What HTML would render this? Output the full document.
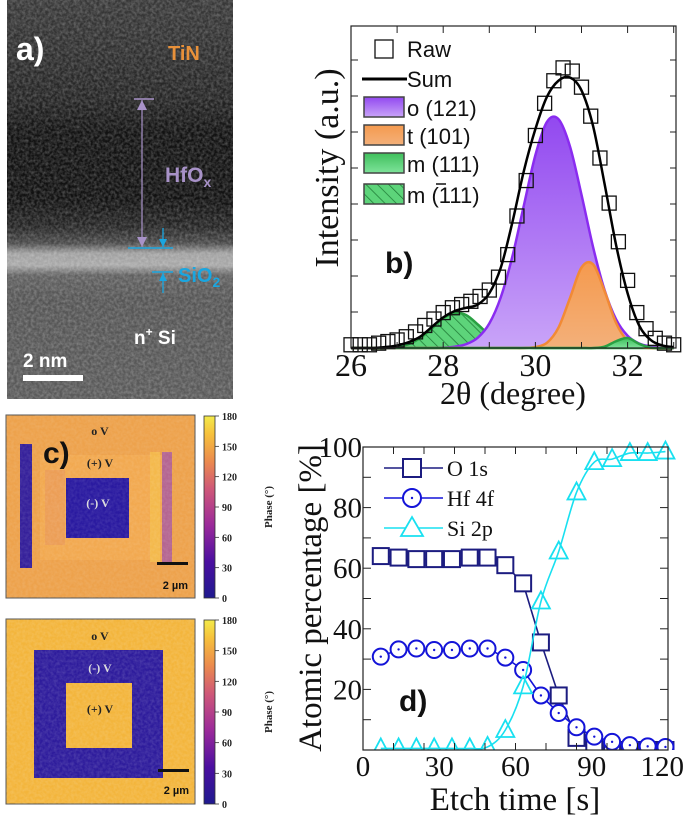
<!DOCTYPE html>
<html><head><meta charset="utf-8"><style>
html,body{margin:0;padding:0;background:#fff;}
svg{display:block;}
.ser{font-family:"Liberation Serif",serif;}
.san{font-family:"Liberation Sans",sans-serif;}
</style></head><body>
<svg id="fig" width="685" height="818" viewBox="0 0 685 818" xmlns="http://www.w3.org/2000/svg">
<defs>
<linearGradient id="temGrad" x1="0" y1="0" x2="0" y2="1">
<stop offset="0" stop-color="#383838"/><stop offset="0.08" stop-color="#333"/>
<stop offset="0.25" stop-color="#242424"/><stop offset="0.33" stop-color="#121212"/>
<stop offset="0.5" stop-color="#111"/><stop offset="0.57" stop-color="#262626"/>
<stop offset="0.61" stop-color="#4a4a4a"/><stop offset="0.635" stop-color="#a0a0a0"/>
<stop offset="0.665" stop-color="#a8a8a8"/><stop offset="0.69" stop-color="#606060"/>
<stop offset="0.75" stop-color="#555"/><stop offset="1" stop-color="#5a5a5a"/>
</linearGradient>
<filter id="noise" x="0" y="0" width="1" height="1">
<feTurbulence type="fractalNoise" baseFrequency="0.35" numOctaves="2" seed="3"/>
<feColorMatrix type="matrix" values="0 0 0 0 1  0 0 0 0 1  0 0 0 0 1  0 0 0 1.2 -0.35"/>
</filter>
<linearGradient id="plasma" x1="0" y1="1" x2="0" y2="0">
<stop offset="0" stop-color="#1f1a8f"/><stop offset="0.2" stop-color="#4b0fa0"/>
<stop offset="0.4" stop-color="#9b2a9a"/><stop offset="0.6" stop-color="#cf5878"/>
<stop offset="0.75" stop-color="#eb8a4e"/><stop offset="0.9" stop-color="#f6c03c"/>
<stop offset="1" stop-color="#f3ea4a"/>
</linearGradient>
<pattern id="hatch" width="8" height="8" patternUnits="userSpaceOnUse" patternTransform="rotate(-45)">
<rect width="8" height="8" fill="#5dd47a"/><line x1="0" y1="0" x2="0" y2="8" stroke="#1f7a35" stroke-width="1.5"/>
</pattern>
<linearGradient id="purpGrad" x1="0" y1="0" x2="0" y2="1"><stop offset="0" stop-color="#9248f0"/><stop offset="1" stop-color="#c9a4f8"/></linearGradient>
<linearGradient id="orGrad" x1="0" y1="0" x2="0" y2="1"><stop offset="0" stop-color="#f59a4e"/><stop offset="1" stop-color="#f3b07a"/></linearGradient>
<linearGradient id="grGrad" x1="0" y1="0" x2="0" y2="1"><stop offset="0" stop-color="#3fbf5c"/><stop offset="1" stop-color="#7ee39a"/></linearGradient>
</defs>

<!-- Panel a: TEM -->
<g>
<rect x="7" y="0" width="226" height="399" fill="url(#temGrad)"/>
<rect x="7" y="0" width="226" height="399" filter="url(#noise)" opacity="0.35"/>
<text x="16" y="60" class="san" font-size="32" font-weight="bold" fill="#fff">a)</text>
<text x="168" y="60" class="san" font-size="20" font-weight="bold" fill="#e8913a">TiN</text>
<line x1="142" y1="100" x2="142" y2="247" stroke="#a892c8" stroke-width="1.2"/>
<line x1="134" y1="99" x2="154" y2="99" stroke="#a892c8" stroke-width="1.5"/>
<polygon points="142,100 137,110 147,110" fill="#a892c8"/>
<polygon points="142,247 137,237 147,237" fill="#a892c8"/>
<text x="165" y="182" class="san" font-size="21" font-weight="bold" fill="#a892c8">HfO<tspan font-size="14" dy="5">x</tspan></text>
<line x1="128" y1="248" x2="173" y2="248" stroke="#1aa6e0" stroke-width="1.5"/>
<line x1="152" y1="272" x2="173" y2="272" stroke="#1aa6e0" stroke-width="1.5"/>
<line x1="163" y1="228" x2="163" y2="247" stroke="#1aa6e0" stroke-width="1.3"/>
<polygon points="163,247 159,239 167,239" fill="#1aa6e0"/>
<line x1="163" y1="273" x2="163" y2="293" stroke="#1aa6e0" stroke-width="1.3"/>
<polygon points="163,273 159,281 167,281" fill="#1aa6e0"/>
<text x="178" y="282" class="san" font-size="20" font-weight="bold" fill="#1aa6e0">SiO<tspan font-size="14" dy="5">2</tspan></text>
<text x="134" y="344" class="san" font-size="19" font-weight="bold" fill="#fff">n<tspan font-size="12" dy="-8">+</tspan><tspan dy="8"> Si</tspan></text>
<text x="23" y="367" class="san" font-size="19" font-weight="bold" fill="#fff">2 nm</text>
<rect x="23" y="375" width="60" height="6" fill="#fff"/>
</g>

<!-- Panel c top -->
<g>
<rect x="6" y="415" width="189" height="183" fill="#eda24c" stroke="#555" stroke-width="1"/>
<rect x="40" y="455" width="122" height="105" fill="#f2a950"/>
<rect x="45" y="470" width="20" height="75" fill="#e8975a" opacity="0.6"/>
<rect x="150" y="452" width="10" height="110" fill="#f5c04a" opacity="0.7"/>
<rect x="20" y="444" width="12" height="124" fill="#35209a"/>
<rect x="162" y="452" width="10" height="112" fill="#a050a8" opacity="0.75"/>
<rect x="66" y="478" width="63" height="60" fill="#2a1aa0"/>
<rect x="6" y="415" width="189" height="183" filter="url(#noise)" opacity="0.15"/>
<text x="43" y="463" class="san" font-size="30" font-weight="bold" fill="#111">c)</text>
<text x="100" y="435" class="ser" font-size="12" font-weight="bold" fill="#222" text-anchor="middle">o V</text>
<text x="100" y="467" class="ser" font-size="12" font-weight="bold" fill="#222" text-anchor="middle">(+) V</text>
<text x="98" y="507" class="ser" font-size="12" font-weight="bold" fill="#ddd" text-anchor="middle">(-) V</text>
<rect x="157" y="562" width="31" height="3" fill="#111"/>
<text x="188" y="589" class="san" font-size="11" font-weight="bold" fill="#111" text-anchor="end">2 µm</text>
</g>
<g>
<rect x="204" y="416" width="11" height="182" fill="url(#plasma)" stroke="#333" stroke-width="0.8"/>
</g>

<!-- Panel c bottom -->
<g>
<rect x="6" y="619" width="189" height="185" fill="#f3b53c" stroke="#555" stroke-width="1"/>
<rect x="34" y="650" width="129" height="128" fill="#2e1c9c"/>
<rect x="66" y="683" width="66" height="65" fill="#f3b53c"/>
<rect x="6" y="619" width="189" height="185" filter="url(#noise)" opacity="0.2"/>
<text x="100" y="640" class="ser" font-size="12" font-weight="bold" fill="#222" text-anchor="middle">o V</text>
<text x="100" y="672" class="ser" font-size="12" font-weight="bold" fill="#ddd" text-anchor="middle">(-) V</text>
<text x="100" y="713" class="ser" font-size="12" font-weight="bold" fill="#222" text-anchor="middle">(+) V</text>
<rect x="158" y="769" width="31" height="3" fill="#111"/>
<text x="189" y="794" class="san" font-size="11" font-weight="bold" fill="#111" text-anchor="end">2 µm</text>
</g>
<g>
<rect x="204" y="620" width="11" height="184" fill="url(#plasma)" stroke="#333" stroke-width="0.8"/>
</g>
<g id="cbticks"></g>

<!-- Panel b -->
<g id="panelB"></g>
<!-- Panel d -->
<g id="panelD"></g>
</svg>
<script>
// ---------- Panel b data ----------
const gridX = [26,26.25,26.5,26.75,27,27.25,27.5,27.75,28,28.25,28.5,28.75,29,29.25,29.5,29.75,30,30.25,30.5,30.75,31,31.25,31.5,31.75,32,32.25,32.5,32.75,33];
const oVals =  [0,0,0,0,0,0,0,0,0.1,0.4,1.2,3.2,7.6,15.8,28.4,44.3,59.9,70.2,71.1,62.6,47.6,31.4,18,8.9,3.8,1.4,0.5,0.1,0];
const tVals =  [0,0,0,0,0,0,0,0,0,0,0,0,0,0,0,0,0.3,1.6,6.3,15.5,25,26,17.7,7.8,2.2,0.4,0,0,0];
const mBarVals=[0,0,0,0.1,0.4,1.2,3.1,6,9.2,10.9,10.2,7.3,4.1,1.8,0.6,0.2,0,0,0,0,0,0,0,0,0,0,0,0,0];
const m111Vals=[0,0,0,0,0,0,0,0,0,0,0,0,0,0,0,0,0,0,0,0,0,0,0.4,2.1,3.1,1.3,0.1,0,0];
const sumVals= [0,0,0,0.3,0.8,1.8,3.5,6.5,9.5,11.5,12.5,13.5,17,25,39,55,68,78,83,84,80,69,51,32,17,7,2.5,0.8,0.3];
const rawX = [26,26.2,26.4,26.6,26.8,27,27.2,27.4,27.6,27.8,28,28.2,28.4,28.6,28.8,29,29.2,29.4,29.6,29.8,30,30.2,30.4,30.6,30.8,31,31.2,31.4,31.6,31.8,32,32.2,32.4,32.6,32.8,33];
const rawY = [1,1,1,1.5,2,2.5,3.5,5,7,9,11,12.5,13.5,14.5,16,18,22,29,41,52,66,76,83,87,86,81,72,59,45,33,21,11,6,3,1.5,1];
const bXTicks = [26,28,30,32];

// ---------- Panel d data ----------
const etchTime = [7,14,21,28,35,42,49,56,63,70,77,84,91,98,105,112,119];
const o1s = [64,63.5,63,63,63,63.5,63.5,61,55,35.5,18,4,1,0,0,0,0];
const hf4f = [30.8,33.2,33.5,33,33,33.5,33.5,30.5,26.4,18,12.2,7.5,4.4,2.7,1.6,1.2,1];
const si2p = [0.5,0.5,0.5,0.5,0.5,0.5,1,6.6,21,49,65.5,85,95,96,98,98,98.5];
const dXTicks = [0,30,60,90,120];
const dYTicks = [20,40,60,80,100];
const cbLabels = [0,30,60,90,120,150,180];

const NS='http://www.w3.org/2000/svg';
function mk(parent, tag, attrs){const e=document.createElementNS(NS,tag);for(const k in attrs)e.setAttribute(k,attrs[k]);parent.appendChild(e);return e;}
function smooth(pts){let d='M'+pts[0][0]+','+pts[0][1];for(let i=0;i<pts.length-1;i++){const p0=pts[i-1]||pts[i],p1=pts[i],p2=pts[i+1],p3=pts[i+2]||p2;
d+=' C'+(p1[0]+(p2[0]-p0[0])/6)+','+(p1[1]+(p2[1]-p0[1])/6)+' '+(p2[0]-(p3[0]-p1[0])/6)+','+(p2[1]-(p3[1]-p1[1])/6)+' '+p2[0]+','+p2[1];}return d;}

// colorbar labels
const cbg=document.getElementById('cbticks');
[[416,598],[620,804]].forEach(([t,b],ci)=>{
  cbLabels.forEach(v=>{const y=b-(v/180)*(b-t);
    const tx=mk(cbg,'text',{x:222,y:y+4,'font-size':10,'font-weight':'bold',class:'ser',fill:'#222'});tx.textContent=v;
    
    
    mk(cbg,'line',{x1:215,x2:219,y1:y,y2:y,stroke:'#333','stroke-width':0.8});});
  const lab=mk(cbg,'text',{x:0,y:0,'font-size':11,'font-weight':'bold',class:'ser',fill:'#222','text-anchor':'middle',transform:'translate(272,'+((t+b)/2)+') rotate(-90)'});
  lab.textContent='Phase (°)';
  
  
});

// ---------- Panel b ----------
(function(){
const g=document.getElementById('panelB');
const L=351,R=676,T=26,B=348;
const sx=v=>L+(v-26)/(33.05-26)*(R-L);
const sy=v=>B-v/100*(B-T);
function area(vals,fill,stroke,name){
  const pts=gridX.map((x,i)=>[sx(x),sy(vals[i])]);
  const p=mk(g,'path',{d:smooth(pts)+' L'+sx(33)+','+B+' L'+sx(26)+','+B+' Z',fill:fill,stroke:'none'});
  
  
  mk(g,'path',{d:smooth(pts),fill:'none',stroke:stroke,'stroke-width':2.5});
}
area(mBarVals,'url(#hatch)','#2aa043','peak-m-bar111');
area(oVals,'url(#purpGrad)','#8a2cf0','peak-o121');
area(tVals,'url(#orGrad)','#f28a35','peak-t101');
area(m111Vals,'url(#grGrad)','#2aa043','peak-m111');
rawX.forEach((x,i)=>{const r=mk(g,'rect',{x:sx(x)-7,y:sy(rawY[i])-7,width:14,height:14,fill:'none',stroke:'#111','stroke-width':1.3});
  
  });
const sp=mk(g,'path',{d:smooth(gridX.map((x,i)=>[sx(x),sy(sumVals[i])])),fill:'none',stroke:'#000','stroke-width':2.5});


mk(g,'rect',{x:L,y:T,width:R-L,height:B-T,fill:'none',stroke:'#222','stroke-width':1.2});
for(let v=26;v<=33;v++){const x=sx(v);mk(g,'line',{x1:x,x2:x,y1:B,y2:B-6,stroke:'#222'});mk(g,'line',{x1:x,x2:x,y1:T,y2:T+7,stroke:'#222'});}
for(let k=1;k<=8;k++){const y=B-k*36;mk(g,'line',{x1:L,x2:L+7,y1:y,y2:y,stroke:'#222'});mk(g,'line',{x1:R,x2:R-6,y1:y,y2:y,stroke:'#222'});}
bXTicks.forEach(v=>{const t=mk(g,'text',{x:sx(v),y:376,'text-anchor':'middle','font-size':32,class:'ser',fill:'#111'});t.textContent=v;
  
  });
const xt=mk(g,'text',{x:513,y:404,'text-anchor':'middle','font-size':32,class:'ser',fill:'#111'});xt.textContent='2θ (degree)';


const yt=mk(g,'text',{x:0,y:0,'text-anchor':'middle','font-size':34,class:'ser',fill:'#111',transform:'translate(338,168) rotate(-90)'});yt.textContent='Intensity (a.u.)';


const bl=mk(g,'text',{x:385,y:273,'font-size':30,'font-weight':'bold',class:'san',fill:'#111'});bl.textContent='b)';


// legend
const lg=mk(g,'g',{});


mk(lg,'rect',{x:375,y:40,width:18,height:18,fill:'none',stroke:'#111','stroke-width':1.3});
mk(lg,'line',{x1:362,x2:407,y1:79,y2:79,stroke:'#000','stroke-width':3});
const sw=[['url(#purpGrad)',97,'o (121)'],['url(#orGrad)',125,'t (101)'],['url(#grGrad)',153,'m (111)'],['url(#hatch)',184,'m (111)']];
sw.forEach(s=>mk(lg,'rect',{x:364,y:s[1],width:40,height:20,fill:s[0],stroke:'#444','stroke-width':1.5}));
const labs=[['Raw',57],['Sum',87],['o (121)',116],['t (101)',144],['m (111)',172],['m (111)',203]];
labs.forEach((l,i)=>{const t=mk(lg,'text',{x:407,y:l[1],'font-size':22,class:'san',fill:'#111'});t.textContent=l[0];
  
  });
mk(lg,'line',{x1:436,x2:446,y1:184,y2:184,stroke:'#111','stroke-width':1.5});
})();

// ---------- Panel d ----------
(function(){
const g=document.getElementById('panelD');
const L=363,R=668,T=447,B=750;
const sx=v=>L+v/120*(R-L);
const sy=v=>B-v/100*(B-T);
mk(g,'rect',{x:L,y:T,width:R-L,height:B-T,fill:'#fff'});
const cp=mk(g,'clipPath',{id:'dclip'});mk(cp,'rect',{x:L,y:T-10,width:R-L+8,height:B-T+10});
const pg=mk(g,'g',{'clip-path':'url(#dclip)'});
function series(vals,color,shape,name,curve){
  const pts=etchTime.map((x,i)=>[sx(x),sy(vals[i])]);
  const ln=mk(pg,'path',{d:curve?smooth(pts):'M'+pts.map(p=>p.join(',')).join(' L'),fill:'none',stroke:color,'stroke-width':1.6});
  
  
  pts.forEach(p=>{let m;
    if(shape==='sq')m=mk(pg,'rect',{x:p[0]-8,y:p[1]-8,width:16,height:16,fill:'#fff',stroke:color,'stroke-width':2});
    else if(shape==='ci'){m=mk(pg,'circle',{cx:p[0],cy:p[1],r:8,fill:'#fff',stroke:color,'stroke-width':2});mk(pg,'circle',{cx:p[0],cy:p[1],r:1.2,fill:color});}
    else m=mk(pg,'polygon',{points:(p[0]-9)+','+(p[1]+7)+' '+(p[0]+9)+','+(p[1]+7)+' '+p[0]+','+(p[1]-10),fill:'none',stroke:color,'stroke-width':1.8});
    
    });
}
series(o1s,'#1c1c80','sq','o1s',false);
series(hf4f,'#1414d8','ci','hf4f',false);
series(si2p,'#18e0f0','tr','si2p',true);
mk(g,'rect',{x:L,y:T,width:R-L,height:B-T,fill:'none',stroke:'#222','stroke-width':1.2});
for(let k=0;k<=10;k++){const x=L+k*(R-L)/10;mk(g,'line',{x1:x,x2:x,y1:B,y2:B-7,stroke:'#222'});mk(g,'line',{x1:x,x2:x,y1:T,y2:T+7,stroke:'#222'});}
for(let k=1;k<10;k++){const y=B-k*(B-T)/10;mk(g,'line',{x1:L,x2:L+8,y1:y,y2:y,stroke:'#222'});mk(g,'line',{x1:R,x2:R-8,y1:y,y2:y,stroke:'#222'});}
dXTicks.forEach(v=>{const last=v===120;const t=mk(g,'text',{x:last?684:sx(v),y:776,'text-anchor':last?'end':'middle','font-size':29,class:'ser',fill:'#111'});t.textContent=v;
  
  });
dYTicks.forEach(v=>{const t=mk(g,'text',{x:L-1,y:sy(v)+10,'text-anchor':'end','font-size':29,class:'ser',fill:'#111'});t.textContent=v;
  
  });
const xt=mk(g,'text',{x:515,y:810,'text-anchor':'middle','font-size':33,class:'ser',fill:'#111'});xt.textContent='Etch time [s]';


const yt=mk(g,'text',{x:0,y:0,'text-anchor':'middle','font-size':33,class:'ser',fill:'#111',transform:'translate(321,598) rotate(-90)'});yt.textContent='Atomic percentage [%]';


const dl=mk(g,'text',{x:399,y:711,'font-size':30,'font-weight':'bold',class:'san',fill:'#111'});dl.textContent='d)';


const lg=mk(g,'g',{});


[['O 1s','#1c1c80','sq',468],['Hf 4f','#1414d8','ci',498],['Si 2p','#18e0f0','tr',528]].forEach(e=>{
  const y=e[3],cx=412;
  mk(lg,'line',{x1:384,x2:443,y1:y,y2:y,stroke:e[1],'stroke-width':1.6});
  if(e[2]==='sq')mk(lg,'rect',{x:cx-9,y:y-9,width:18,height:18,fill:'#fff',stroke:e[1],'stroke-width':2});
  else if(e[2]==='ci'){mk(lg,'circle',{cx:cx,cy:y,r:9,fill:'#fff',stroke:e[1],'stroke-width':2});mk(lg,'circle',{cx:cx,cy:y,r:1.2,fill:e[1]});}
  else mk(lg,'polygon',{points:(cx-11)+','+(y+8)+' '+(cx+11)+','+(y+8)+' '+cx+','+(y-11),fill:'#fff',stroke:e[1],'stroke-width':1.8});
  const t=mk(lg,'text',{x:447,y:y+8,'font-size':22,class:'ser',fill:'#111'});t.textContent=e[0];
  
  
});
})();
</script>
</body></html>
